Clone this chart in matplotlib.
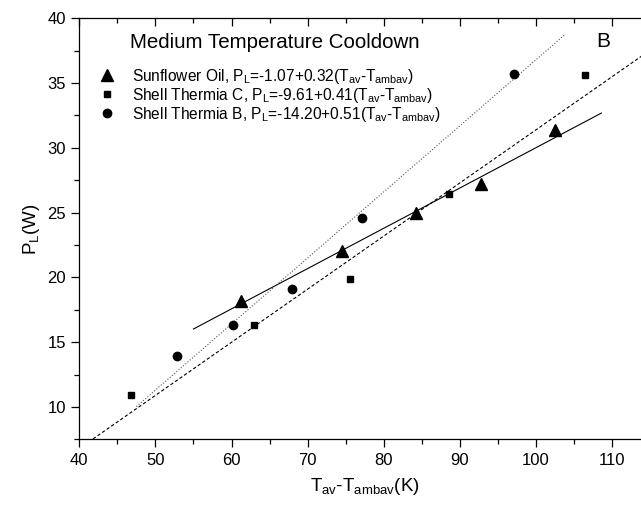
import numpy as np
import matplotlib
matplotlib.use('Agg')
import matplotlib.pyplot as plt
from matplotlib.ticker import MultipleLocator

plt.rcParams['font.family'] = ['Liberation Sans', 'DejaVu Sans']
plt.rcParams['mathtext.default'] = 'regular'

# data
sun_x = [61.2, 74.5, 84.2, 92.8, 102.5]
sun_y = [18.2, 22.0, 25.0, 27.2, 31.4]
shc_x = [46.8, 62.9, 75.6, 88.6, 106.4]
shc_y = [10.9, 16.3, 19.9, 26.4, 35.6]
shb_x = [52.9, 60.2, 68.0, 77.2, 97.1]
shb_y = [13.9, 16.3, 19.1, 24.6, 35.7]

# fit lines as drawn: (intercept, slope, x start, x end)
sun_fit = (-1.09, 0.311, 55.0, 108.6)
shc_fit = (-9.61, 0.41, 41.8, 116.0)
shb_fit = (-14.20, 0.51, 47.5, 103.7)

labels = [
    'Sunflower Oil, P$_L$=-1.07+0.32(T$_{av}$-T$_{ambav}$)',
    'Shell Thermia C, P$_L$=-9.61+0.41(T$_{av}$-T$_{ambav}$)',
    'Shell Thermia B, P$_L$=-14.20+0.51(T$_{av}$-T$_{ambav}$)',
]

fig = plt.figure(figsize=(6.41, 5.07), dpi=100)
ax = fig.add_axes([0.1237, 0.1335, 0.8905, 0.8304])


def fit_line(f, style):
    b, m, x0, x1 = f
    xs = np.array([x0, x1])
    ax.plot(xs, b + m * xs, style, color='black', lw=0.8)


fit_line(sun_fit, '-')
fit_line(shc_fit, '--')
ax.lines[-1].set_dashes((3, 2))
fit_line(shb_fit, ':')
ax.lines[-1].set_color('#555555')

h1, = ax.plot(sun_x, sun_y, '^', color='black', ms=8, ls='none')
h2, = ax.plot(shc_x, shc_y, 's', color='black', ms=5, ls='none')
h3, = ax.plot(shb_x, shb_y, 'o', color='black', ms=6, ls='none')

ax.set_xlim(40, 115)
ax.set_ylim(7.5, 40)
ax.xaxis.set_major_locator(MultipleLocator(10))
ax.xaxis.set_minor_locator(MultipleLocator(5))
ax.yaxis.set_major_locator(MultipleLocator(5))
ax.yaxis.set_minor_locator(MultipleLocator(2.5))
ax.tick_params(which='both', top=True, right=False, labelsize=12, width=0.9)
ax.tick_params(which='major', length=6)
ax.tick_params(which='minor', length=3.3)
ax.tick_params(axis='x', which='both', direction='out')
for t in ax.xaxis.get_major_ticks() + ax.xaxis.get_minor_ticks():
    t.tick2line.set_marker(3)  # top ticks point inward
for s in ax.spines.values():
    s.set_linewidth(0.9)

ax.set_xlabel('T$_{av}$-T$_{ambav}$(K)', fontsize=13.5, labelpad=6)
ax.set_ylabel('P$_L$(W)', fontsize=13.5, labelpad=4)

ax.text(46.6, 38.1, 'Medium Temperature Cooldown', fontsize=14.8, va='center')
ax.text(108.8, 38.2, 'B', fontsize=15, va='center', ha='center')
leg = ax.legend([h1, h2, h3], labels, loc='upper left', bbox_to_anchor=(0.033, 0.885),
                frameon=False, fontsize=11.2, handletextpad=1.0, labelspacing=0.0,
                borderaxespad=0, handlelength=1.2, borderpad=0)

fig.savefig('out.png', dpi=100)
